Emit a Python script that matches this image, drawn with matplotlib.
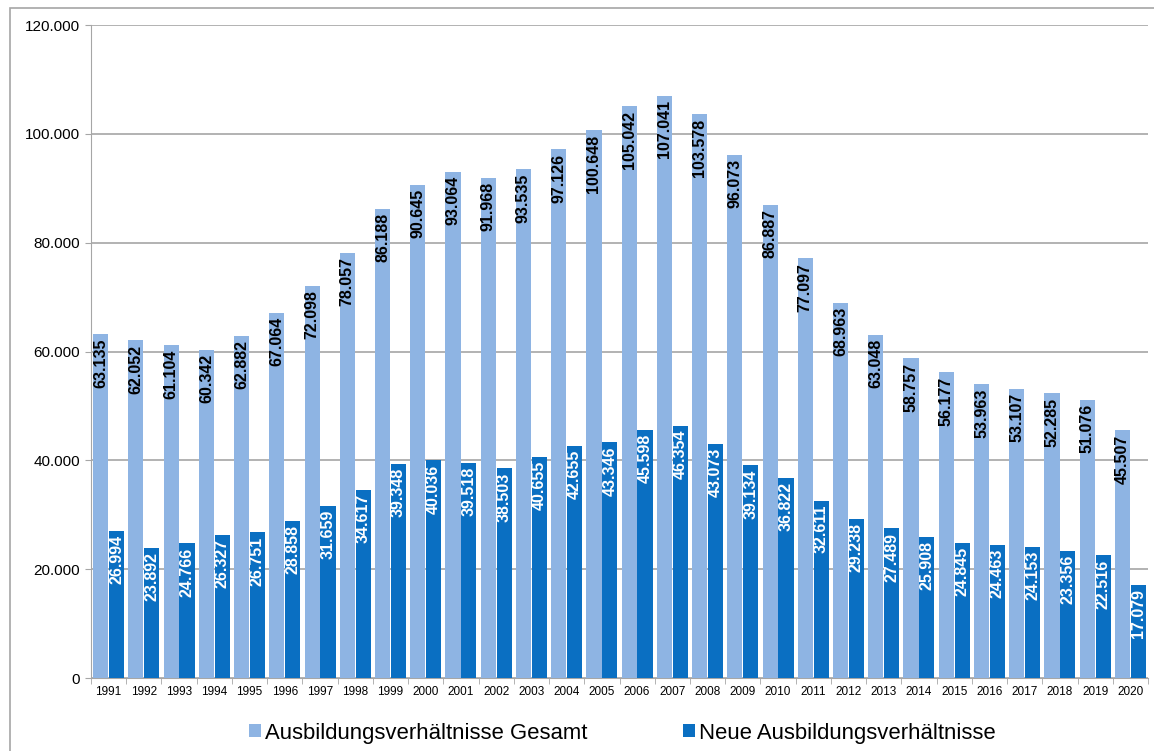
import numpy as np
import matplotlib.pyplot as plt
from matplotlib.patches import Rectangle

plt.rcParams['font.family'] = ['Liberation Sans', 'DejaVu Sans']

years = [str(y) for y in range(1991, 2021)]
gesamt = [63135, 62052, 61104, 60342, 62882, 67064, 72098, 78057, 86188, 90645,
          93064, 91968, 93535, 97126, 100648, 105042, 107041, 103578, 96073, 86887,
          77097, 68963, 63048, 58757, 56177, 53963, 53107, 52285, 51076, 45507]
neue = [26994, 23892, 24766, 26327, 26751, 28858, 31659, 34617, 39348, 40036,
        39518, 38503, 40655, 42655, 43346, 45598, 46354, 43073, 39134, 36822,
        32611, 29238, 27489, 25908, 24845, 24463, 24153, 23356, 22516, 17079]

light = '#8eb4e3'
dark = '#0a6fc2'
grey = '#a6a6a6'

def fmt(v):
    return f'{v:,}'.replace(',', '.')

fig = plt.figure(figsize=(11.54, 7.51), dpi=100)
ax = fig.add_axes([91/1154, 1 - 678/751, 1057/1154, 653/751])

x = np.arange(len(years))
w = 0.43
b1 = ax.bar(x - w/2 - 0.01, gesamt, w, color=light, label='Ausbildungsverhältnisse Gesamt', zorder=3)
b2 = ax.bar(x + w/2 + 0.01, neue, w, color=dark, label='Neue Ausbildungsverhältnisse', zorder=3)

for xi, v in zip(x, gesamt):
    ax.annotate(fmt(v), (xi - w/2 - 0.01, v), xytext=(0, -3), textcoords='offset points',
                rotation=90, ha='center', va='top', fontsize=11.5, fontweight='bold',
                color='black', zorder=4)
for xi, v in zip(x, neue):
    ax.annotate(fmt(v), (xi + w/2 + 0.01, v), xytext=(0, -3), textcoords='offset points',
                rotation=90, ha='center', va='top', fontsize=11.5, fontweight='bold',
                color='white', zorder=4)

ax.set_xlim(-0.5, len(years) - 0.5)
ax.set_ylim(0, 120000)
ax.set_yticks(np.arange(0, 120001, 20000))
ax.set_yticklabels([fmt(t) for t in range(0, 120001, 20000)], fontsize=11)
ax.set_xticks(x)
ax.set_xticklabels(years, fontsize=8.5)
ax.set_xticks(np.arange(-0.5, len(years)), minor=True)
ax.tick_params(axis='x', which='major', length=0, pad=6)
ax.tick_params(axis='x', which='minor', length=4, color=grey)
ax.tick_params(axis='y', length=4, color=grey, pad=4)

ax.grid(axis='y', color=grey, linewidth=1.2, zorder=0)
for s in ['top', 'right']:
    ax.spines[s].set_visible(False)
ax.spines['left'].set_color(grey)
ax.spines['bottom'].set_color(grey)

fig.legend(handles=[b1, b2], loc='center', bbox_to_anchor=(0.5394, 1 - 733/751),
           ncol=2, frameon=False, fontsize=15.9, handlelength=0.55, handleheight=0.55,
           handletextpad=0.2, columnspacing=4.3)

fig.patches.append(Rectangle((10/1154, -0.1), 1.2, 1.1 - 8/751, transform=fig.transFigure,
                             fill=False, edgecolor=grey, linewidth=1.2))

fig.savefig('out.png', dpi=100)
